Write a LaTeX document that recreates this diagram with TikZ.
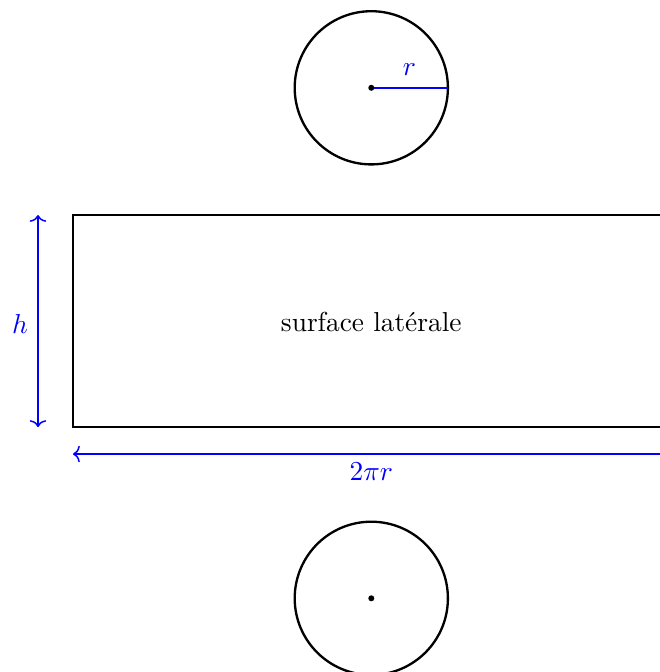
\documentclass[tikz,border=0pt]{standalone}
\usetikzlibrary{arrows.meta}
\begin{document}
\begin{tikzpicture}[x=0.365pt,y=-0.365pt,
  shape line/.style={line width=0.85pt},
  dim line/.style={draw=blue,line width=0.55pt},
  dim arrows/.style={dim line,{To[length=2.5pt,width=6pt]}-{To[length=2.5pt,width=6pt]}},
  dot/.style={circle,fill,inner sep=0pt,minimum size=2.2pt}]
\clip (0,0) rectangle (660,672);
% top disc
\coordinate (c1) at (371.3,87.8);
\draw[shape line] (c1) circle[radius=76.6];
\coordinate (c1r) at (447.9,87.8);
\draw[dim line] (c1) -- (c1r);
\node[blue] (rlab) at (409.5,70) {$r$};
\node[dot] (d1) at (c1) {};
% lateral surface
\coordinate (nw) at (73,215);
\coordinate (se) at (669.6,427);
\draw[shape line] (nw) rectangle (se);
\node (lat) at (371.3,322) {surface latérale};
% height
\coordinate (ht) at (38,215);
\coordinate (hb) at (38,427);
\draw[dim arrows] (ht) -- (hb);
\node[blue] (hlab) at (20,324) {$h$};
% width
\coordinate (wl) at (73,454);
\coordinate (wr) at (669.6,454);
\draw[dim arrows] (wl) -- (wr);
\node[blue] (wlab) at (371.3,472) {$2\pi r$};
% bottom disc
\coordinate (c2) at (371.3,598.3);
\draw[shape line] (c2) circle[radius=76.6];
\node[dot] (d2) at (c2) {};
\end{tikzpicture}
\end{document}
